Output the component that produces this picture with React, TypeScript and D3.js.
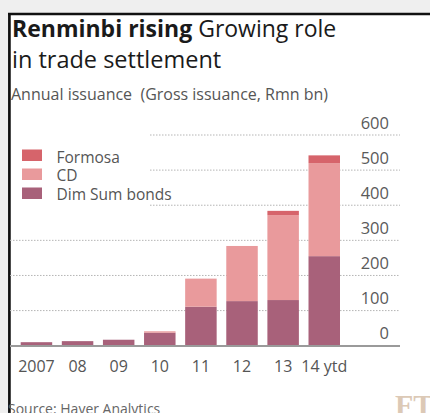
import React from "react";
import * as d3 from "d3";

const categories = ["2007", "08", "09", "10", "11", "12", "13", "14 ytd"];
const dimSum = [10, 13, 17, 37, 111, 127, 130, 255];
const cd = [0, 0, 0, 4, 80, 157, 242, 265];
const formosa = [0, 0, 0, 0, 0, 0, 12, 22];
const yTicks = [0, 100, 200, 300, 400, 500, 600];
const seriesNames = ["Formosa", "CD", "Dim Sum bonds"];
const seriesColors = ["#d6646b", "#e99a9c", "#a8617a"];

const W = 430;
const H = 413;
const FONT = "'Open Sans', 'DejaVu Sans', sans-serif";

export default function App() {
  const x = d3
    .scaleBand<string>()
    .domain(categories)
    .range([20.7, 340])
    .paddingInner(0.234)
    .paddingOuter(0);
  const y = d3.scaleLinear().domain([0, 600]).range([345.7, 135]);

  const rows = categories.map((c, i) => ({
    cat: c,
    dim: dimSum[i],
    cd: cd[i],
    formosa: formosa[i],
  }));
  const stack = d3.stack<any>().keys(["dim", "cd", "formosa"]);
  const layers = stack(rows);
  const layerColor: Record<string, string> = {
    dim: seriesColors[2],
    cd: seriesColors[1],
    formosa: seriesColors[0],
  };

  return (
    <svg
      width={W}
      height={H}
      style={{ position: "absolute", left: 0, top: 0 }}
      fontFamily={FONT}
    >
      <rect x={0} y={0} width={W} height={H} fill="#efefef" />
      <rect x={8} y={13} width={W - 8} height={H - 13} fill="#ffffff" />
      <line x1={8} x2={W} y1={14} y2={14} stroke="#111" strokeWidth={2.3} />
      <line x1={9.4} x2={9.4} y1={13} y2={H} stroke="#111" strokeWidth={2.7} />

      <text x={12} y={36.5} fontSize={23} fill="#1a1a1a">
        <tspan fontWeight="bold">Renminbi rising</tspan>
        <tspan> Growing role</tspan>
      </text>
      <text x={12} y={68} fontSize={23.5} fill="#1a1a1a">
        in trade settlement
      </text>
      <text x={11} y={100} fontSize={16} fill="#555">
        Annual issuance{"\u00a0\u00a0"}(Gross issuance, Rmn bn)
      </text>

      {yTicks.map((t) => (
        <g key={t}>
          {t > 0 && (
            <line
              x1={t >= 400 ? 150 : 10}
              x2={400}
              y1={y(t)}
              y2={y(t)}
              stroke="#b5b5b5"
              strokeWidth={1}
              strokeDasharray="1.5,1.5"
            />
          )}
          <text
            x={389}
            y={y(t) - 6.5}
            textAnchor="end"
            fontSize={16.5}
            fill="#5a5a5a"
          >
            {t}
          </text>
        </g>
      ))}

      {layers.map((layer) => (
        <g key={layer.key} fill={layerColor[layer.key]}>
          {layer.map((d, i) =>
            d[1] - d[0] > 0 ? (
              <rect
                key={i}
                x={x(categories[i])}
                width={x.bandwidth()}
                y={y(d[1])}
                height={y(d[0]) - y(d[1])}
              />
            ) : null
          )}
        </g>
      ))}

      <line x1={10} x2={400} y1={346} y2={346} stroke="#9a9a9a" strokeWidth={2} />

      {categories.map((c) => (
        <text
          key={c}
          x={(x(c) as number) + x.bandwidth() / 2}
          y={371.5}
          textAnchor="middle"
          fontSize={16}
          fill="#555"
        >
          {c}
        </text>
      ))}

      {seriesNames.map((n, i) => (
        <g key={n}>
          <rect
            x={22}
            y={149.5 + i * 19}
            width={20}
            height={11.5}
            fill={seriesColors[i]}
          />
          <text x={56.5} y={162.5 + i * 18.7} fontSize={15.5} fill="#555">
            {n}
          </text>
        </g>
      ))}

      <text x={8} y={414} fontSize={14} fill="#666">
        Source: Haver Analytics
      </text>
      <text
        x={395}
        y={415}
        fontSize={30}
        fontFamily="'Liberation Serif', 'DejaVu Serif', serif"
        fontWeight="bold"
        fill="#dcc9b6"
      >
        FT
      </text>
    </svg>
  );
}
